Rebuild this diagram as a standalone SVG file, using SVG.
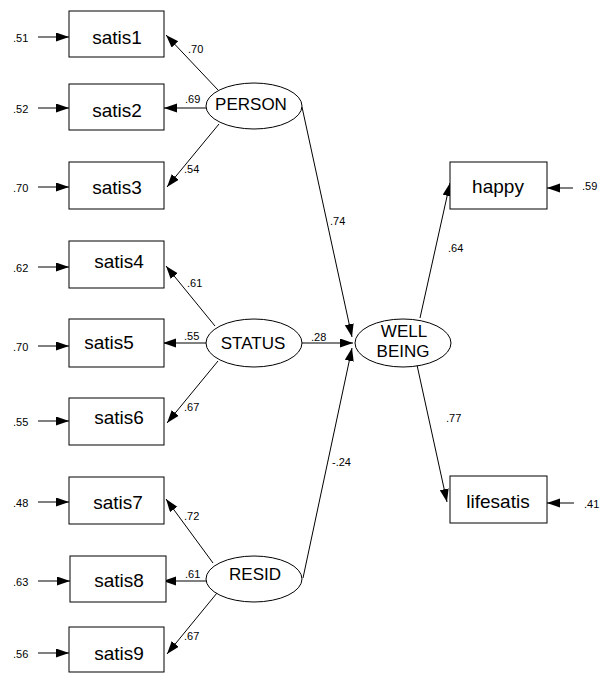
<svg xmlns="http://www.w3.org/2000/svg" width="600" height="673" viewBox="0 0 600 673">
<defs>
<marker id="ah" markerUnits="userSpaceOnUse" markerWidth="14" markerHeight="10" refX="13" refY="4.5" orient="auto">
<path d="M0,0 L13,4.5 L0,9 z" fill="#000"/>
</marker>
</defs>
<style>
.box{fill:#fff;stroke:#000;stroke-width:1}
.ell{fill:#fff;stroke:#000;stroke-width:1}
.bt{font-family:"Liberation Sans",Arial,sans-serif;font-size:19px;text-anchor:middle;fill:#000}
.et{font-family:"Liberation Sans",Arial,sans-serif;font-size:17px;text-anchor:middle;fill:#000}
.lb{font-family:"Liberation Sans",Arial,sans-serif;font-size:11px;fill:#000}
.c{stroke:#000;stroke-width:1;fill:none;marker-end:url(#ah)}
</style>
<rect width="600" height="673" fill="#fff"/>
<g id="connectors">
<line class="c" x1="38" y1="37" x2="69" y2="37"/>
<line class="c" x1="38" y1="108" x2="69" y2="108"/>
<line class="c" x1="38" y1="187" x2="69" y2="187"/>
<line class="c" x1="38" y1="267" x2="69" y2="267"/>
<line class="c" x1="38" y1="346" x2="69" y2="346"/>
<line class="c" x1="38" y1="421" x2="69" y2="421"/>
<line class="c" x1="38" y1="502" x2="69" y2="502"/>
<line class="c" x1="38" y1="581" x2="70" y2="581"/>
<line class="c" x1="38" y1="653" x2="69" y2="653"/>
<line class="c" x1="573" y1="188" x2="547" y2="188"/>
<line class="c" x1="574" y1="503" x2="547" y2="503"/>
<line class="c" x1="218" y1="90" x2="166" y2="35"/>
<line class="c" x1="206" y1="108" x2="164" y2="108"/>
<line class="c" x1="219" y1="124" x2="167" y2="187"/>
<line class="c" x1="215" y1="326" x2="166" y2="266"/>
<line class="c" x1="206" y1="343" x2="163" y2="343"/>
<line class="c" x1="218" y1="361" x2="167" y2="423"/>
<line class="c" x1="213" y1="563" x2="166" y2="499"/>
<line class="c" x1="207" y1="581" x2="163" y2="581"/>
<line class="c" x1="217" y1="593" x2="167" y2="654"/>
<line class="c" x1="302" y1="107" x2="352" y2="337"/>
<line class="c" x1="302" y1="343" x2="353" y2="343"/>
<line class="c" x1="303" y1="578" x2="352" y2="348"/>
<line class="c" x1="420" y1="318" x2="450" y2="183"/>
<line class="c" x1="417" y1="365" x2="447" y2="502"/>
<text class="lb" x="13" y="42">.51</text>
<text class="lb" x="13" y="113">.52</text>
<text class="lb" x="13" y="192">.70</text>
<text class="lb" x="13" y="272">.62</text>
<text class="lb" x="13" y="351">.70</text>
<text class="lb" x="13" y="426">.55</text>
<text class="lb" x="13" y="507">.48</text>
<text class="lb" x="13" y="586">.63</text>
<text class="lb" x="13" y="658">.56</text>
<text class="lb" x="582" y="190">.59</text>
<text class="lb" x="584" y="508">.41</text>
<text class="lb" x="188" y="53">.70</text>
<text class="lb" x="185" y="103">.69</text>
<text class="lb" x="184" y="173">.54</text>
<text class="lb" x="187" y="287">.61</text>
<text class="lb" x="184" y="340">.55</text>
<text class="lb" x="184" y="411">.67</text>
<text class="lb" x="184" y="520">.72</text>
<text class="lb" x="185" y="578">.61</text>
<text class="lb" x="184" y="640">.67</text>
<text class="lb" x="330" y="225">.74</text>
<text class="lb" x="311" y="341">.28</text>
<text class="lb" x="332" y="466">-.24</text>
<text class="lb" x="448" y="252">.64</text>
<text class="lb" x="446" y="422">.77</text>
</g>
<g id="satis1"><rect class="box" x="69" y="11" width="95" height="46"/><text class="bt" x="117" y="44">satis1</text></g>
<g id="satis2"><rect class="box" x="69" y="84" width="95" height="46"/><text class="bt" x="117" y="117">satis2</text></g>
<g id="satis3"><rect class="box" x="69" y="162" width="95" height="47"/><text class="bt" x="117" y="194">satis3</text></g>
<g id="satis4"><rect class="box" x="69" y="241" width="95" height="47"/><text class="bt" x="119" y="268">satis4</text></g>
<g id="satis5"><rect class="box" x="69" y="319" width="95" height="48"/><text class="bt" x="109" y="349">satis5</text></g>
<g id="satis6"><rect class="box" x="69" y="398" width="95" height="47"/><text class="bt" x="119" y="424">satis6</text></g>
<g id="satis7"><rect class="box" x="69" y="477" width="95" height="47"/><text class="bt" x="118" y="509">satis7</text></g>
<g id="satis8"><rect class="box" x="70" y="556" width="96" height="46"/><text class="bt" x="119" y="587">satis8</text></g>
<g id="satis9"><rect class="box" x="69" y="627" width="95" height="45"/><text class="bt" x="119" y="660">satis9</text></g>
<g id="happy"><rect class="box" x="450" y="162" width="97" height="47"/><text class="bt" x="498" y="193">happy</text></g>
<g id="lifesatis"><rect class="box" x="450" y="476" width="97" height="47"/><text class="bt" x="498" y="508">lifesatis</text></g>
<g id="person"><ellipse class="ell" cx="254" cy="106" rx="48" ry="23"/><text class="et" x="251" y="110">PERSON</text></g>
<g id="status"><ellipse class="ell" cx="254" cy="343" rx="48" ry="24"/><text class="et" x="253" y="349">STATUS</text></g>
<g id="resid"><ellipse class="ell" cx="254" cy="579" rx="48" ry="23"/><text class="et" x="255" y="580">RESID</text></g>
<g id="wellbeing"><ellipse class="ell" cx="403" cy="343" rx="48" ry="24"/><text class="et" x="404" y="337">WELL</text><text class="et" x="403" y="357">BEING</text></g>
</svg>
